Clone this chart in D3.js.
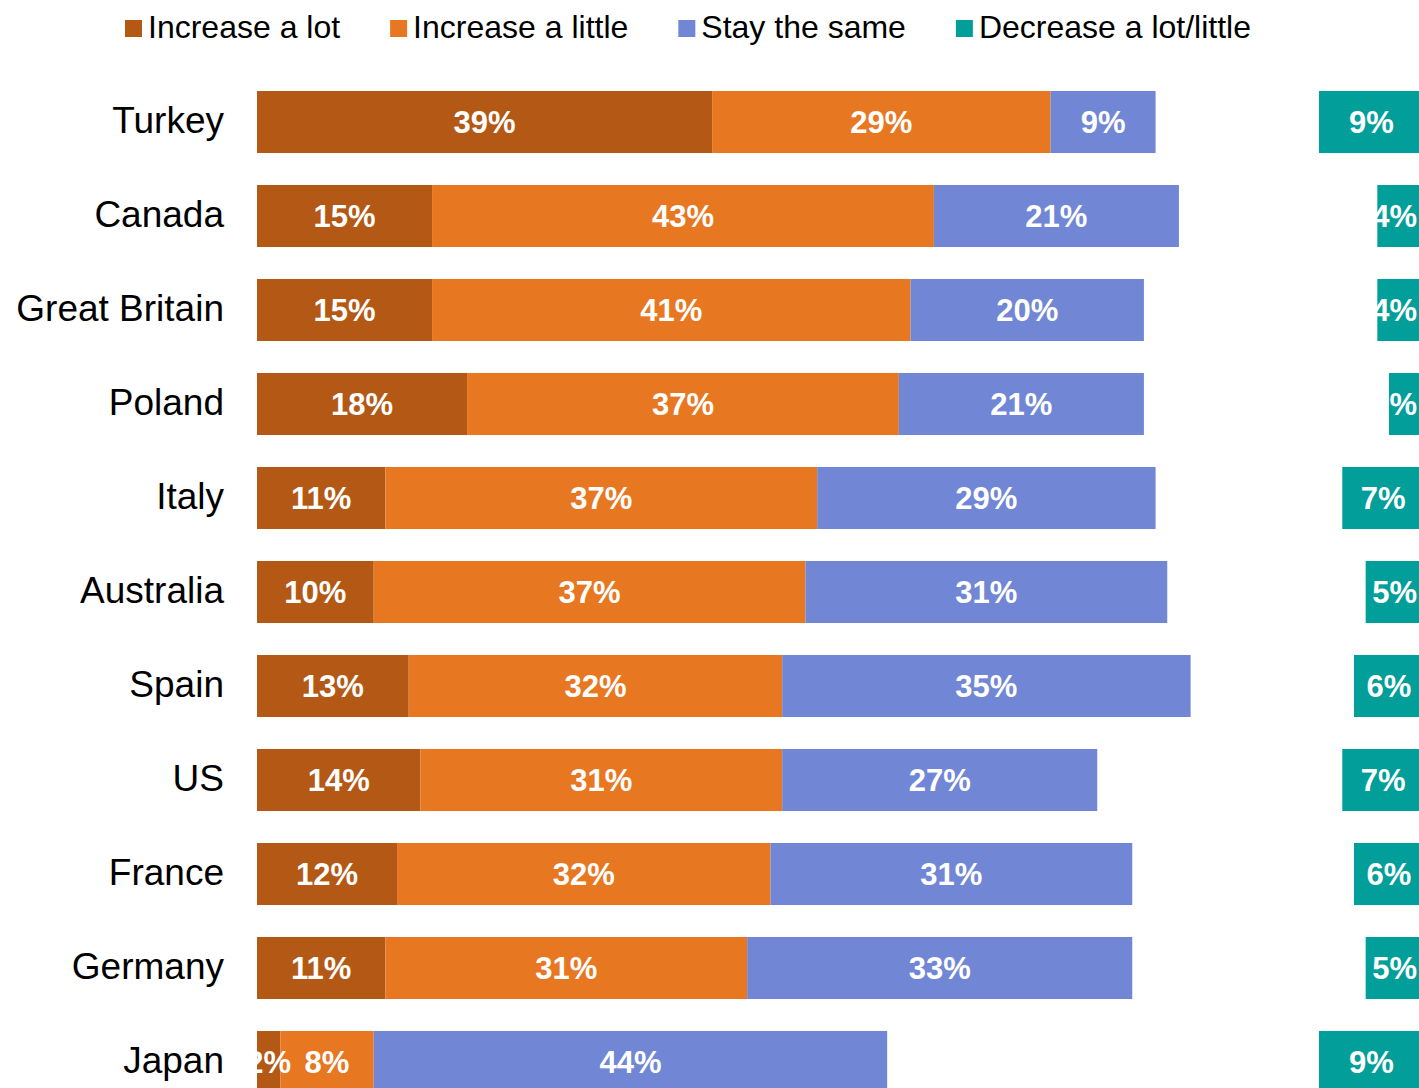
<!DOCTYPE html>
<html>
<head>
<meta charset="utf-8">
<script src="https://cdn.jsdelivr.net/npm/d3@7"></script>
<style>
  html, body { margin: 0; padding: 0; background: #fff; overflow: hidden; }
  svg { display: block; font-family: "Liberation Sans", Arial, sans-serif; }
</style>
</head>
<body>
<svg id="chart" width="1419" height="1088"></svg>
<script>
// Survey answers by country (percent of respondents)
const categories = ["Turkey", "Canada", "Great Britain", "Poland", "Italy", "Australia",
                    "Spain", "US", "France", "Germany", "Japan"];
const increaseLot    = [39, 15, 15, 18, 11, 10, 13, 14, 12, 11, 2];
const increaseLittle = [29, 43, 41, 37, 37, 37, 32, 31, 32, 31, 8];
const staySame       = [ 9, 21, 20, 21, 29, 31, 35, 27, 31, 33, 44];
const decrease       = [ 9,  4,  4,  3,  7,  5,  6,  7,  6,  5, 9];
const seriesNames = ["Increase a lot", "Increase a little", "Stay the same", "Decrease a lot/little"];
const seriesColors = ["#B35915", "#E87722", "#7187D5", "#029E99"];

const svg = d3.select("#chart");

const x = d3.scaleLinear().domain([0, 100]).range([257, 1424]);
const y = d3.scaleBand().domain(categories).range([75, 1109])
  .paddingInner(0.34).paddingOuter(0.17);

// Build segments: the three "increase/same" answers stack from the left,
// the "decrease" answer sits against the right end of the 0–100 axis.
const segs = [];
categories.forEach((c, i) => {
  const vals = [increaseLot[i], increaseLittle[i], staySame[i]];
  let acc = 0;
  vals.forEach((v, k) => {
    segs.push({ cat: c, k, v, x0: acc, x1: acc + v });
    acc += v;
  });
  segs.push({ cat: c, k: 3, v: decrease[i], x0: 100 - decrease[i], x1: 100 });
});

const gBars = svg.append("g");
gBars.selectAll("rect").data(segs).join("rect")
  .attr("x", d => x(d.x0))
  .attr("y", d => y(d.cat))
  .attr("width", d => x(d.x1) - x(d.x0))
  .attr("height", y.bandwidth())
  .attr("fill", d => seriesColors[d.k]);

// Value labels, centred in each segment and kept inside the chart area
const gLabels = svg.append("g");
const rightLimit = 1417;
gLabels.selectAll("text").data(segs).join("text")
  .attr("y", d => y(d.cat) + y.bandwidth() / 2 + 11)
  .attr("text-anchor", "middle")
  .attr("fill", "#fff")
  .attr("font-weight", "bold")
  .attr("font-size", 31)
  .text(d => d.v + "%")
  .each(function(d) {
    let cx = (x(d.x0) + x(d.x1)) / 2;
    const w = this.getComputedTextLength();
    if (cx + w / 2 > rightLimit) cx = rightLimit - w / 2;
    d3.select(this).attr("x", cx);
  });

// Category axis labels
const gCats = svg.append("g");
gCats.selectAll("text").data(categories).join("text")
  .attr("x", 224)
  .attr("y", d => y(d) + y.bandwidth() / 2 + 10.5)
  .attr("text-anchor", "end")
  .attr("font-size", 37)
  .attr("fill", "#000")
  .text(d => d);

// Legend laid out left to right
const legend = svg.append("g");
let lx = 125;
seriesNames.forEach((name, k) => {
  legend.append("rect")
    .attr("x", lx).attr("y", 20)
    .attr("width", 17).attr("height", 17)
    .attr("fill", seriesColors[k]);
  const t = legend.append("text")
    .attr("x", lx + 23).attr("y", 38)
    .attr("font-size", 32)
    .attr("fill", "#000")
    .text(name);
  lx = lx + 23 + t.node().getComputedTextLength() + 50;
});
</script>
</body>
</html>
